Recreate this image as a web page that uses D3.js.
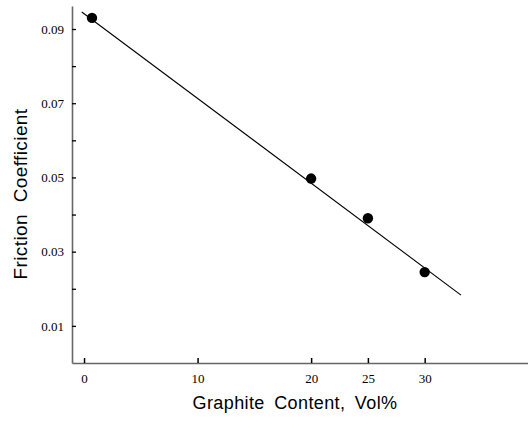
<!DOCTYPE html>
<html>
<head>
<meta charset="utf-8">
<script src="https://cdn.jsdelivr.net/npm/d3@7"></script>
<style>
  body { margin: 0; background: #fff; }
  svg { display: block; }
</style>
</head>
<body>
<div id="chart"></div>
<script>
// measured points
var graphite = [0.7, 20, 25, 30]
var friction = [0.093, 0.0497, 0.039, 0.0245]

// fitted line end points
var fitX = [-0.2, 33.2]
var fitY = [0.0946, 0.0183]

var xTicks = [0, 10, 20, 25, 30]
var yTicks = [0.01, 0.02, 0.03, 0.04, 0.05, 0.06, 0.07, 0.08, 0.09]
var yLabelled = [0.01, 0.03, 0.05, 0.07, 0.09]

var width = 528
var height = 434

var svg = d3.select('#chart')
            .append('svg')
            .attr('width', width)
            .attr('height', height)

var xScale = d3.scaleLinear()
                .domain([-1.06, 39.1])
                .range([72, 528])

var yScale = d3.scaleLinear()
                .domain([0, 0.0962])
                .range([363, 6])

// x axis, ticks pointing inward
var xAxis = d3.axisBottom(xScale)
                .tickValues(xTicks)
                .tickSizeInner(-5)
                .tickSizeOuter(0)
                .tickPadding(11)
                .tickFormat(d3.format('d'))

var gx = svg.append('g')
            .attr('transform', 'translate(0,' + yScale(0) + ')')
            .call(xAxis)
gx.select('.domain').attr('stroke', '#666').attr('stroke-width', 1.6)
gx.selectAll('.tick line').attr('stroke', '#000').attr('stroke-width', 1.5)
gx.selectAll('.tick text')
    .attr('font-family', 'Liberation Serif, serif')
    .attr('font-size', 13)
    .attr('fill', '#000')

// y axis, ticks pointing inward
var yAxis = d3.axisLeft(yScale)
                .tickValues(yTicks)
                .tickSizeInner(-4)
                .tickSizeOuter(0)
                .tickPadding(8)
                .tickFormat((d) => yLabelled.some((v) => Math.abs(v - d) < 1e-9) ? d3.format('.2f')(d) : '')

var gy = svg.append('g')
            .attr('transform', 'translate(' + xScale(-1.06) + ',0)')
            .call(yAxis)
gy.select('.domain').attr('stroke', '#666').attr('stroke-width', 1.6)
gy.selectAll('.tick line').attr('stroke', '#000').attr('stroke-width', 1.3)
gy.selectAll('.tick text')
    .attr('font-family', 'Liberation Serif, serif')
    .attr('font-size', 13)
    .attr('fill', '#000')

// fitted line
var line = d3.line()
                .x((d) => xScale(d[0]))
                .y((d) => yScale(d[1]))

svg.append('path')
    .datum(d3.zip(fitX, fitY))
    .attr('d', line)
    .attr('fill', 'none')
    .attr('stroke', '#000')
    .attr('stroke-width', 1.1)

// data points
svg.selectAll('.pt')
    .data(d3.zip(graphite, friction))
    .enter()
    .append('circle')
    .attr('class', 'pt')
    .attr('cx', (d) => xScale(d[0]))
    .attr('cy', (d) => yScale(d[1]))
    .attr('r', 5.2)
    .attr('fill', '#000')

// axis titles
svg.append('text')
    .attr('x', 295)
    .attr('y', 409)
    .attr('text-anchor', 'middle')
    .attr('font-family', 'Liberation Sans, Arial, sans-serif')
    .attr('font-size', 18)
    .attr('letter-spacing', 0.4)
    .attr('word-spacing', 4)
    .text('Graphite Content, Vol%')

svg.append('text')
    .attr('transform', 'translate(27,194) rotate(-90)')
    .attr('text-anchor', 'middle')
    .attr('font-family', 'Liberation Sans, Arial, sans-serif')
    .attr('font-size', 19)
    .attr('letter-spacing', 0.4)
    .attr('word-spacing', 6)
    .text('Friction Coefficient')
</script>
</body>
</html>
